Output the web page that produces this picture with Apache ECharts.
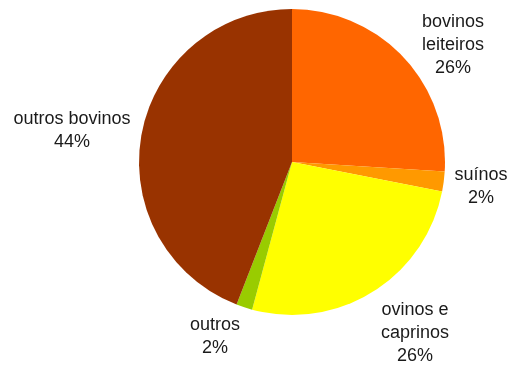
<!DOCTYPE html>
<html>
<head>
<meta charset="utf-8">
<script src="https://cdn.jsdelivr.net/npm/echarts@6/dist/echarts.min.js"></script>
<style>
  html, body { margin: 0; padding: 0; background: #fff; }
  #chart { width: 510px; height: 370px; }
</style>
</head>
<body>
<div id="chart"></div>
<script>
// categorias e participação (%)
const categories = ['bovinos\nleiteiros', 'suínos', 'ovinos e\ncaprinos', 'outros', 'outros bovinos']
const values = [26, 2.1, 26.1, 1.7, 44.1]
const colors = ['#ff6600', '#ff9900', '#ffff00', '#99cc00', '#993300']

// posição dos rótulos (centro do bloco de texto)
const labelPos = [[453, 45], [481, 187], [415, 333], [215, 337], [72, 131]]

const chart = echarts.init(document.getElementById('chart'))
chart.setOption({
  animation: false,
  series: [{
    type: 'pie',
    center: [292, 162],
    radius: 153,
    startAngle: 90,
    clockwise: true,
    itemStyle: { borderWidth: 0 },
    label: {
      show: true,
      position: 'outside',
      color: '#1a1a1a',
      fontFamily: 'Liberation Sans',
      fontSize: 18,
      lineHeight: 23,
      align: 'center',
      overflow: 'none',
      edgeDistance: 0,
      formatter: function (p) {
        return p.name + '\n' + Math.round(p.percent) + '%'
      },
    },
    labelLine: { show: false },
    labelLayout: function (params) {
      const p = labelPos[params.dataIndex]
      return { x: p[0], y: p[1], align: 'center', verticalAlign: 'middle' }
    },
    emphasis: { disabled: true },
    data: categories.map((name, i) => ({
      name: name,
      value: values[i],
      itemStyle: { color: colors[i] },
    })),
  }],
})
</script>
</body>
</html>
